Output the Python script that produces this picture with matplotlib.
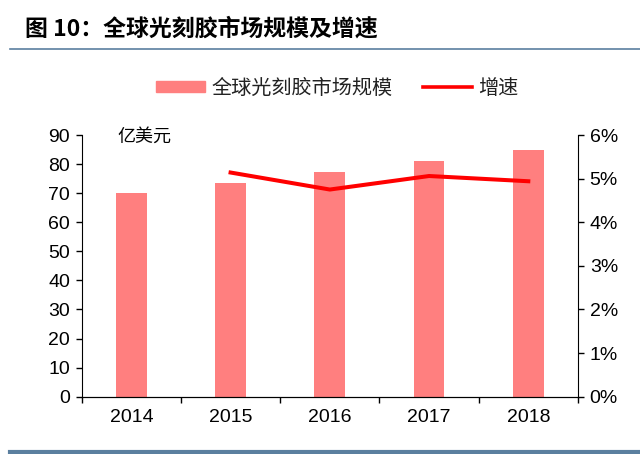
import matplotlib
matplotlib.use('Agg')
import matplotlib.pyplot as plt
from matplotlib.ticker import PercentFormatter
from matplotlib.lines import Line2D
from matplotlib.patches import Patch

plt.rcParams['font.family'] = ['Liberation Sans', 'Noto Sans CJK SC', 'DejaVu Sans']

# data
years = ['2014', '2015', '2016', '2017', '2018']
market = [70.0, 73.6, 77.2, 81.0, 84.9]        # 亿美元
growth_years = ['2015', '2016', '2017', '2018']
growth = [5.14, 4.75, 5.06, 4.94]              # %

bar_color = '#ff7f7f'
line_color = '#ff0000'
frame_color = '#5b7f9f'

fig = plt.figure(figsize=(6.4, 4.54), dpi=100)
ax = fig.add_axes([0.1277, 0.1262, 0.903 - 0.1277, 0.7026 - 0.1262])

x = list(range(len(years)))
ax.bar(x, market, width=0.31, color=bar_color, zorder=2)
ax.set_xlim(-0.5, len(years) - 0.5)
ax.set_ylim(0, 90)
ax.set_yticks(range(0, 91, 10))

# category boundaries as major ticks, labels on minor ticks
ax.set_xticks([i - 0.5 for i in range(len(years) + 1)])
ax.set_xticklabels([])
ax.set_xticks(x, minor=True)
ax.set_xticklabels(years, minor=True)
ax.tick_params(axis='x', which='major', direction='out', length=4.5, width=1)
ax.tick_params(axis='x', which='minor', length=0, pad=9, labelsize=14)
ax.tick_params(axis='y', direction='out', length=4.5, width=1, labelsize=14, pad=4)
ax.spines['top'].set_visible(False)
ax.spines['right'].set_visible(False)

ax2 = ax.twinx()
gx = [years.index(y) for y in growth_years]
ax2.plot(gx, [g / 100 for g in growth], color=line_color, lw=2.9, zorder=3)
ax2.set_ylim(0, 0.06)
ax2.set_yticks([i / 100 for i in range(0, 7)])
ax2.yaxis.set_major_formatter(PercentFormatter(1.0, decimals=0))
ax2.tick_params(axis='y', direction='out', length=4.5, width=1, labelsize=14, pad=4)
ax2.spines['top'].set_visible(False)
ax2.spines['left'].set_visible(False)

ax.text(0.071, 0.995, '亿美元', transform=ax.transAxes, fontsize=13,
        family=['Noto Sans CJK SC'], va='center', ha='left')

handles = [Patch(color=bar_color), Line2D([], [], color=line_color, lw=2.6)]
fig.legend(handles, ['全球光刻胶市场规模', '增速'], loc='center',
           bbox_to_anchor=(0.527, 0.806), ncol=2, frameon=False,
           prop={'family': ['Noto Sans CJK SC'], 'size': 14.5},
           labelcolor='#222222',
           handlelength=2.45, handleheight=0.5, columnspacing=1.5, handletextpad=0.3)

# title and frame lines
fig.text(0.039, 0.936, '图 10：全球光刻胶市场规模及增速', fontsize=16.5,
         fontweight='bold', family=['Noto Sans CJK SC'], va='center', ha='left')
fig.add_artist(Line2D([0.016, 1.0], [0.892, 0.892], color=frame_color, lw=1.2,
                      transform=fig.transFigure))
fig.add_artist(Line2D([0.016, 1.0], [0.004, 0.004], color=frame_color, lw=3,
                      transform=fig.transFigure))

fig.savefig('out.png', dpi=100)
